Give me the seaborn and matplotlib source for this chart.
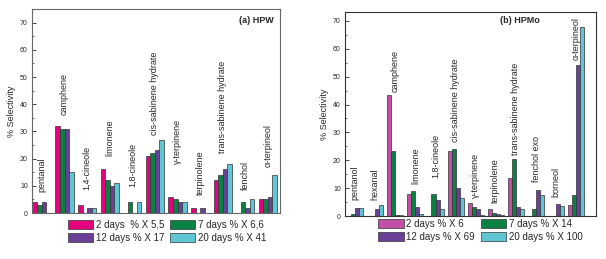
import pandas as pd
import seaborn as sns
import matplotlib.pyplot as plt
from matplotlib.ticker import MultipleLocator

days = ['2 days', '7 days', '12 days', '20 days']

# (a) HPW
hpw_cats = ['pentanal', 'camphene', '1,4-cineole', 'limonene', '1,8-cineole',
            'cis-sabinene hydrate', '\u03b3-terpinene', 'terpinolene',
            'trans-sabinene hydrate', 'fenchol', '\u03b1-terpineol']
hpw_2d = [4, 32, 3, 16, 0, 21, 6, 2, 12, 0, 5]
hpw_7d = [3, 31, 0, 12, 4, 22, 5, 0, 14, 4, 5]
hpw_12d = [4, 31, 2, 10, 0, 23, 4, 2, 16, 2, 6]
hpw_20d = [0, 15, 2, 11, 4, 27, 4, 0, 18, 5, 14]
hpw_legend = ['2 days  % X 5,5', '7 days % X 6,6', '12 days % X 17', '20 days % X 41']
hpw_label_y = [7.8, 36, 8.4, 21, 9.5, 28.5, 18, 6.6, 22, 8.4, 17]

# (b) HPMo
hpmo_cats = ['pentanol', 'hexanal', 'camphene', 'limonene', '1,8-cineole',
             'cis-sabinene hydrate', '\u03b3-terpinene', 'terpinolene',
             'trans-sabinene hydrate', 'fenchol exo', 'borneol', '\u03b1-terpineol']
hpmo_2d = [0, 0, 43.6, 7.8, 0, 23.4, 4.6, 2.6, 13.7, 0, 0, 3.8]
hpmo_7d = [0.8, 0, 23.3, 9, 7.9, 24.2, 3.2, 1.1, 20.6, 2.4, 0, 7.4]
hpmo_12d = [2.9, 2.4, 0.5, 3.4, 5.6, 10, 2.6, 0.8, 3.4, 9.5, 4.2, 54.2]
hpmo_20d = [2.9, 4.1, 0.2, 0.8, 2.6, 6.5, 0.5, 0.3, 2.6, 7.4, 3.7, 68]
hpmo_legend = ['2 days % X 6', '7 days % X 14', '12 days % X 69', '20 days % X 100']
hpmo_label_y = [5.6, 5.6, 44.5, 11.6, 13.6, 26.5, 6.3, 4.5, 21.8, 12.2, 6.8, 56]

pal_a = ['#e5007d', '#0b8043', '#6a3f96', '#5fc6d6']
pal_b = ['#c24fa5', '#0b8043', '#6a3f96', '#5fc6d6']


def long_form(cats, series):
    rows = []
    for d, vals in zip(days, series):
        for c, v in zip(cats, vals):
            rows.append({'cat': c, 'day': d, 'val': v})
    return pd.DataFrame(rows)


sns.set_style('ticks')
plt.rcParams['font.family'] = ['Liberation Sans', 'DejaVu Sans']

fig = plt.figure(figsize=(6.06, 2.59), dpi=100)
ax1 = fig.add_axes([0.0528, 0.1776, 0.409, 0.7876])
ax2 = fig.add_axes([0.5693, 0.166, 0.4142, 0.7876])

panels = [
    (ax1, hpw_cats, [hpw_2d, hpw_7d, hpw_12d, hpw_20d], pal_a, hpw_legend,
     hpw_label_y, (-0.44, 10.53), 75, '(a) HPW', (0.976, 0.943), '#666666',
     (0.545, -0.035)),
    (ax2, hpmo_cats, [hpmo_2d, hpmo_7d, hpmo_12d, hpmo_20d], pal_b, hpmo_legend,
     hpmo_label_y, (-0.5, 11.98), 73.2, '(b) HPMo', (0.777, 0.96), '#333333',
     (0.54, -0.015)),
]

for ax, cats, series, pal, leg, label_y, xlim, ytop, title, tpos, scol, lpos in panels:
    df = long_form(cats, series)
    sns.barplot(data=df, x='cat', y='val', hue='day', order=cats, hue_order=days,
                palette=pal, width=0.8, gap=0, edgecolor='#333333', linewidth=0.5,
                saturation=1, errorbar=None, ax=ax)
    for i, (c, y) in enumerate(zip(cats, label_y)):
        ax.text(i, y, c, rotation=90, ha='center', va='bottom', fontsize=6.5)
    ax.set_xlim(*xlim)
    ax.set_ylim(0, ytop)
    ax.set_xticks([])
    ax.set_xlabel('')
    ax.set_ylabel('% Selectivity', fontsize=6.5, labelpad=3)
    ax.yaxis.set_major_locator(MultipleLocator(10))
    ax.yaxis.set_minor_locator(MultipleLocator(5))
    ax.tick_params(axis='y', which='major', direction='in', length=3, width=0.6,
                   labelsize=5, pad=3)
    ax.tick_params(axis='y', which='minor', direction='in', length=1.5, width=0.5)
    for s in ax.spines.values():
        s.set_visible(True)
        s.set_color(scol)
        s.set_linewidth(0.8)
    ax.text(tpos[0], tpos[1], title, transform=ax.transAxes, ha='right',
            va='center', fontsize=6.5, fontweight='bold')
    handles, _ = ax.get_legend_handles_labels()
    # row-wise order: 2 days, 7 days / 12 days, 20 days
    order = [0, 2, 1, 3]
    ax.legend([handles[k] for k in order], [leg[k] for k in order], ncol=2,
              loc='upper center', bbox_to_anchor=lpos,
              frameon=False, fontsize=7, handlelength=2.6, handleheight=1.0,
              handletextpad=0.3, columnspacing=0.6, labelspacing=0.3,
              borderaxespad=0, borderpad=0)

fig.savefig('out.png', dpi=100)
